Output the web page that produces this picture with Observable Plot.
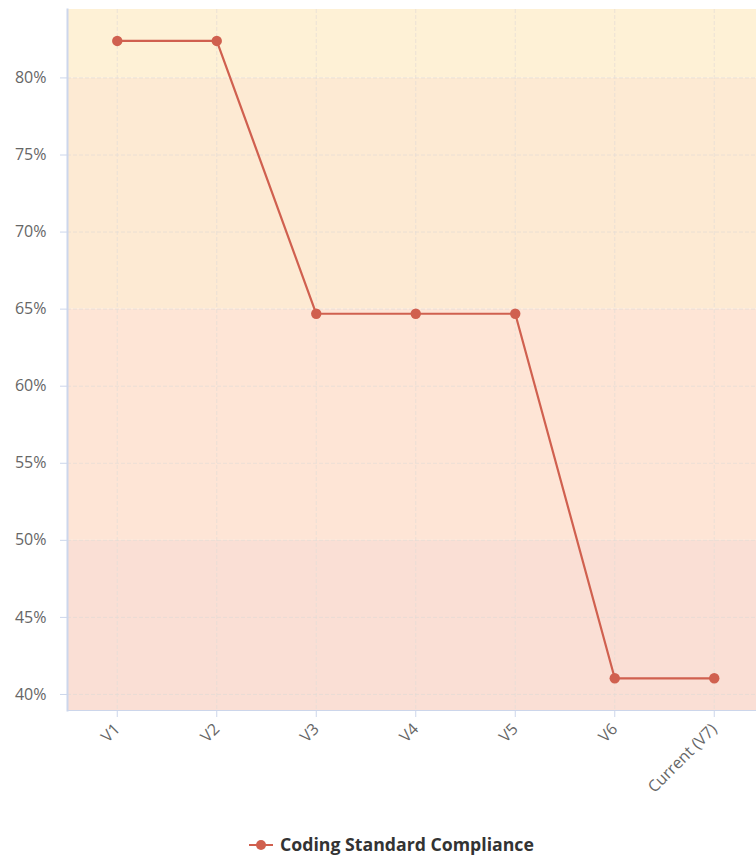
<!DOCTYPE html>
<html>
<head>
<meta charset="utf-8">
<script src="https://cdn.jsdelivr.net/npm/d3@7"></script>
<script src="https://cdn.jsdelivr.net/npm/@observablehq/plot@0.6"></script>
<style>
  html, body { margin: 0; padding: 0; background: #fff; overflow: hidden; }
  body { width: 756px; height: 857px; font-family: "Open Sans", sans-serif; }
  #legend { position: relative; height: 32px; }
  #legend svg { position: absolute; left: 0; top: 0; }
</style>
</head>
<body>
<div id="chart"></div>
<div id="legend"></div>
<script>
const categories = ["V1", "V2", "V3", "V4", "V5", "V6", "Current (V7)"];
const values = [82.4, 82.4, 64.7, 64.7, 64.7, 41.05, 41.05];
const yTicks = [40, 45, 50, 55, 60, 65, 70, 75, 80];
const bandEdges = [50, 65, 80];
const seriesName = "Coding Standard Compliance";

const yDomain = [38.96, 84.44];
const bandColors = ["#fadfd5", "#fee5d6", "#fdead3", "#fef1d6"];
const lineColor = "#d0604f";

const data = categories.map((c, i) => ({category: c, value: values[i]}));
const edges = [yDomain[0], ...bandEdges, yDomain[1]];
const bands = edges.slice(0, -1).map((e, i) => ({y1: e, y2: edges[i + 1], fill: bandColors[i]}));

const W = 756, H = 825;
const left = 67, step = 99.5;

const chart = Plot.plot({
  width: W,
  height: H,
  marginTop: 9,
  marginLeft: left,
  marginRight: 0,
  marginBottom: H - 710,
  style: {fontFamily: "'Open Sans', sans-serif", fontSize: "16px", color: "#666", background: "transparent"},
  x: {type: "band", domain: categories, range: [left, left + step * categories.length], padding: 0, round: false, label: null},
  y: {domain: yDomain, label: null},
  marks: [
    Plot.rect(bands, {y1: "y1", y2: "y2", fill: "fill"}),
    Plot.ruleY(yTicks, {stroke: "#e2dcd6", strokeWidth: 1, strokeDasharray: "4,2", strokeOpacity: 0.7}),
    Plot.ruleX(categories, {x: d => d, stroke: "#e2dcd6", strokeWidth: 1, strokeDasharray: "4,2", strokeOpacity: 0.7}),
    Plot.frame({anchor: "left", stroke: "#ccd6eb", strokeWidth: 2}),
    Plot.ruleY([yDomain[0]], {stroke: "#ccd6eb", strokeWidth: 1}),
    Plot.axisY({ticks: yTicks, tickFormat: d => d + "%", tickSize: 7, tickPadding: 14, stroke: "#ccd6eb", fill: "#666", fontSize: 16}),
    Plot.axisX({tickSize: 7, tickPadding: 9, tickRotate: -45, stroke: "#ccd6eb", fill: "#666", fontSize: 16}),
    Plot.line(data, {x: "category", y: "value", stroke: lineColor, strokeWidth: 2.2}),
    Plot.dot(data, {x: "category", y: "value", r: 5.2, fill: lineColor, stroke: "none"})
  ]
});
document.getElementById("chart").appendChild(chart);

// Legend
const lg = d3.select("#legend").append("svg").attr("width", W).attr("height", 32);
const lx = 249, ly = 20;
lg.append("line").attr("x1", lx).attr("x2", lx + 24).attr("y1", ly).attr("y2", ly)
  .attr("stroke", lineColor).attr("stroke-width", 2);
lg.append("circle").attr("cx", lx + 12).attr("cy", ly).attr("r", 5).attr("fill", lineColor);
lg.append("text").attr("x", lx + 31).attr("y", ly).attr("dy", "0.35em")
  .attr("font-family", "'Open Sans', sans-serif").attr("font-size", 17.7).attr("font-weight", "bold")
  .attr("fill", "#333").text(seriesName);
</script>
</body>
</html>
